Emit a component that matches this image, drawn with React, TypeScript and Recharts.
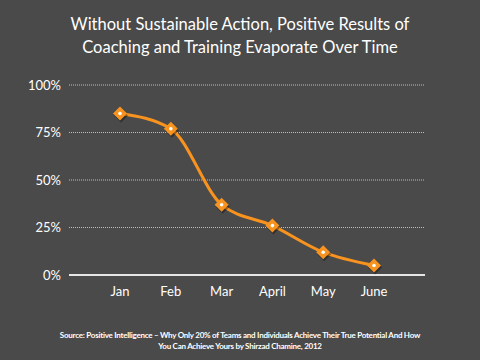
import { CartesianGrid, Line, LineChart, XAxis, YAxis } from "recharts";

const BG = "#4a4a4a";
const ORANGE = "#f7931e";
const FONT = "Lato, 'Open Sans', sans-serif";

const months = ["Jan", "Feb", "Mar", "April", "May", "June"];
const retained = [85, 77, 37, 26, 12, 5];
const yTicks = [0, 25, 50, 75, 100];

const data = months.map((m, i) => ({ month: m, value: retained[i] }));

function DiamondDot(props: any) {
  const { cx, cy, index } = props;
  if (cx == null || cy == null) return null;
  const r = 7;
  return (
    <g key={index}>
      <polygon
        points={`${cx + 1},${cy - r + 2} ${cx + r + 1},${cy + 2} ${cx + 1},${cy + r + 2} ${cx - r + 1},${cy + 2}`}
        fill="rgba(0,0,0,0.35)"
      />
      <polygon
        points={`${cx},${cy - r} ${cx + r},${cy} ${cx},${cy + r} ${cx - r},${cy}`}
        fill={ORANGE}
      />
      <circle cx={cx} cy={cy} r={1.8} fill="#ffffff" />
    </g>
  );
}

export default function App() {
  return (
    <div
      style={{
        position: "fixed",
        left: 0,
        top: 0,
        width: 480,
        height: 360,
        background: BG,
        fontFamily: FONT,
        color: "#ffffff",
      }}
    >
      <div
        style={{
          position: "absolute",
          top: 13,
          left: 0,
          width: 480,
          textAlign: "center",
          fontSize: 16.5,
          lineHeight: "23px",
        }}
      >
        Without Sustainable Action, Positive Results of
        <br />
        Coaching and Training Evaporate Over Time
      </div>
      <LineChart
        width={480}
        height={360}
        data={data}
        margin={{ top: 85, right: 55, bottom: 55, left: 0 }}
        style={{ position: "absolute", left: 0, top: 0 }}
      >
        <CartesianGrid
          vertical={false}
          stroke="#bdbdbd"
          strokeDasharray="1 1"
        />
        <XAxis
          dataKey="month"
          tick={{ fill: "#ffffff", fontSize: 13, fontFamily: FONT }}
          tickLine={false}
          axisLine={{ stroke: "#e6e6e6", strokeWidth: 2 }}
          padding={{ left: 51, right: 51 }}
          tickMargin={6}
        />
        <YAxis
          domain={[0, 100]}
          ticks={yTicks}
          tickFormatter={(v) => `${v}%`}
          tick={{ fill: "#ffffff", fontSize: 13, fontFamily: FONT }}
          tickLine={false}
          axisLine={false}
          width={69}
        />
        <Line
          type="monotone"
          dataKey="value"
          stroke={ORANGE}
          strokeWidth={3}
          dot={<DiamondDot />}
          activeDot={false}
          isAnimationActive={false}
        />
      </LineChart>
      <div
        style={{
          position: "absolute",
          top: 330,
          left: 0,
          width: 480,
          textAlign: "center",
          fontSize: 8,
          fontWeight: 700,
          letterSpacing: -0.25,
          lineHeight: "11px",
        }}
      >
        Source: Positive Intelligence – Why Only 20% of Teams and Individuals Achieve Their True Potential And How
        <br />
        You Can Achieve Yours by Shirzad Chamine, 2012
      </div>
    </div>
  );
}
